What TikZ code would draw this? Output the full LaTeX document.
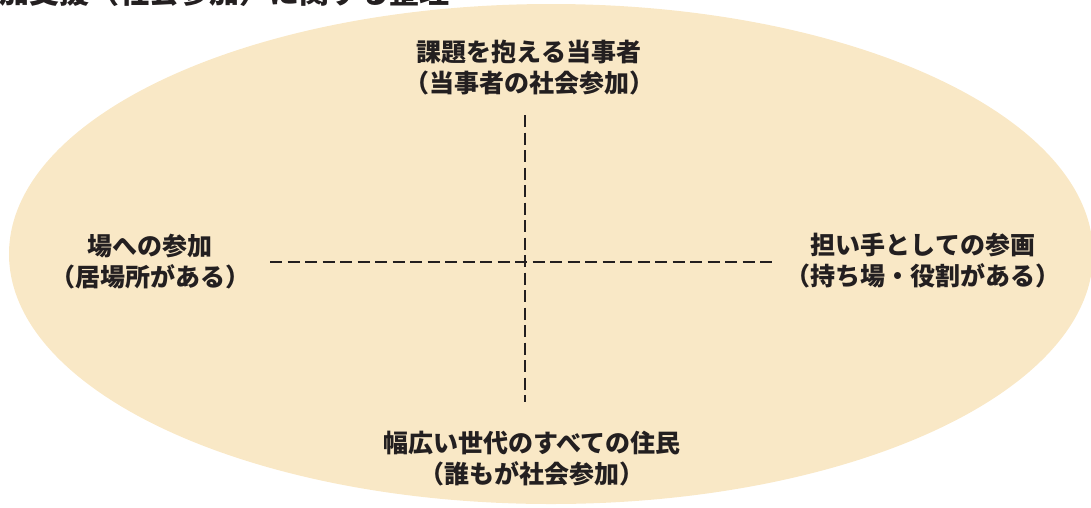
\documentclass[tikz,border=0pt]{standalone}
\usepackage{fontspec}
\newfontfamily\jp{Noto Sans CJK JP}
\definecolor{fillbg}{RGB}{249,232,198}
\definecolor{ink}{RGB}{35,31,32}
\tikzset{
  lbl/.style={align=center, text=ink, inner sep=0pt, font=\jp\bfseries\fontsize{25}{31}\selectfont},
  axis/.style={draw=ink, line width=1.4pt, dash pattern=on 12pt off 5.5pt},
}
\begin{document}
\begin{tikzpicture}[x=1pt,y=-1pt]
\path[use as bounding box, clip] (0,0) rectangle (1091,507);
\fill[fillbg] (551,254) ellipse [x radius=542, y radius=250];
\node[anchor=base west, text=ink, inner sep=0pt, font=\jp\bfseries\fontsize{30}{36}\selectfont] (title) at (-1,3) {加支援（社会参加）に関する整理};
\coordinate (vt) at (525,115);
\coordinate (vb) at (525,402);
\coordinate (hl) at (270,262);
\coordinate (hr) at (775,262);
\draw[axis] (vt) -- (vb);
\draw[axis] (hl) -- (hr);
\node[lbl] (top) at (529,67.5) {課題を抱える当事者\\（当事者の社会参加）};
\node[lbl] (left) at (150,262) {場への参加\\（居場所がある）};
\node[lbl] (right) at (923,261) {担い手としての参画\\（持ち場・役割がある）};
\node[lbl] (bottom) at (532,459) {幅広い世代のすべての住民\\（誰もが社会参加）};
\end{tikzpicture}
\end{document}
